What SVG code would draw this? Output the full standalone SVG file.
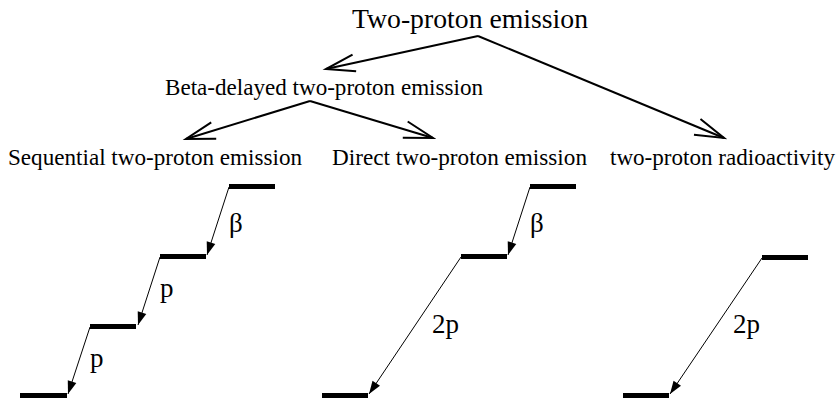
<svg xmlns="http://www.w3.org/2000/svg" width="837" height="400" viewBox="0 0 837 400">
<style>
text{font-family:'Liberation Serif','Times New Roman',Times,serif;fill:#000}
.t1{font-size:27.5px}
.t2{font-size:23px}
.lab{font-size:27px}
.conn{stroke:#000;stroke-width:2;fill:none}
.thin{stroke:#000;stroke-width:1;fill:none}
.bar{fill:#000}
</style>
<defs>
<marker id="open" markerUnits="userSpaceOnUse" markerWidth="40" markerHeight="30" refX="0" refY="0" viewBox="-32 -15 36 30" orient="auto" overflow="visible">
<path d="M -29 -8.5 L 0 0 L -29 8.5" fill="none" stroke="#000" stroke-width="2"/>
</marker>
<marker id="solid" markerUnits="userSpaceOnUse" markerWidth="16" markerHeight="12" refX="0" refY="0" viewBox="-14 -6 16 12" orient="auto" overflow="visible">
<path d="M -13 -4.5 L 0 0 L -13 4.5 Z" fill="#000"/>
</marker>
</defs>

<g id="n-two-proton"><text class="t1" x="352" y="28" textLength="236" lengthAdjust="spacingAndGlyphs">Two-proton emission</text></g>
<g id="n-beta"><text class="t2" x="165" y="95" textLength="318" lengthAdjust="spacingAndGlyphs">Beta-delayed two-proton emission</text></g>
<g id="n-seq"><text class="t2" x="8" y="165" textLength="294" lengthAdjust="spacingAndGlyphs">Sequential two-proton emission</text></g>
<g id="n-direct"><text class="t2" x="332" y="165" textLength="255" lengthAdjust="spacingAndGlyphs">Direct two-proton emission</text></g>
<g id="n-radio"><text class="t2" x="610" y="165" textLength="225" lengthAdjust="spacingAndGlyphs">two-proton radioactivity</text></g>

<g id="connectors">
<line class="conn" x1="478" y1="36" x2="326" y2="69" marker-end="url(#open)"/>
<line class="conn" x1="478" y1="36" x2="724" y2="138" marker-end="url(#open)"/>
<line class="conn" x1="310" y1="101" x2="186" y2="139" marker-end="url(#open)"/>
<line class="conn" x1="310" y1="101" x2="433" y2="138" marker-end="url(#open)"/>
</g>

<g id="scheme-sequential">
<rect class="bar" x="229" y="184" width="46" height="5"/>
<rect class="bar" x="160" y="254" width="46" height="5"/>
<rect class="bar" x="90" y="324" width="46" height="5"/>
<rect class="bar" x="20" y="393" width="47" height="5"/>
<line class="thin" x1="229" y1="187" x2="207" y2="255" marker-end="url(#solid)"/>
<line class="thin" x1="160" y1="257" x2="138" y2="325" marker-end="url(#solid)"/>
<line class="thin" x1="90" y1="327" x2="68" y2="394" marker-end="url(#solid)"/>
<text class="lab" x="229" y="232">β</text>
<text class="lab" x="160" y="297">p</text>
<text class="lab" x="90" y="367">p</text>
</g>

<g id="scheme-direct">
<rect class="bar" x="530" y="184" width="46" height="5"/>
<rect class="bar" x="461" y="254" width="46" height="5"/>
<rect class="bar" x="322" y="393" width="46" height="5"/>
<line class="thin" x1="530" y1="187" x2="508" y2="255" marker-end="url(#solid)"/>
<line class="thin" x1="461" y1="257" x2="369" y2="394" marker-end="url(#solid)"/>
<text class="lab" x="530" y="232">β</text>
<text class="lab" x="432" y="333">2p</text>
</g>

<g id="scheme-radioactivity">
<rect class="bar" x="762" y="255" width="46" height="5"/>
<rect class="bar" x="623" y="393" width="46" height="5"/>
<line class="thin" x1="762" y1="258" x2="670" y2="394" marker-end="url(#solid)"/>
<text class="lab" x="733" y="333">2p</text>
</g>
</svg>
